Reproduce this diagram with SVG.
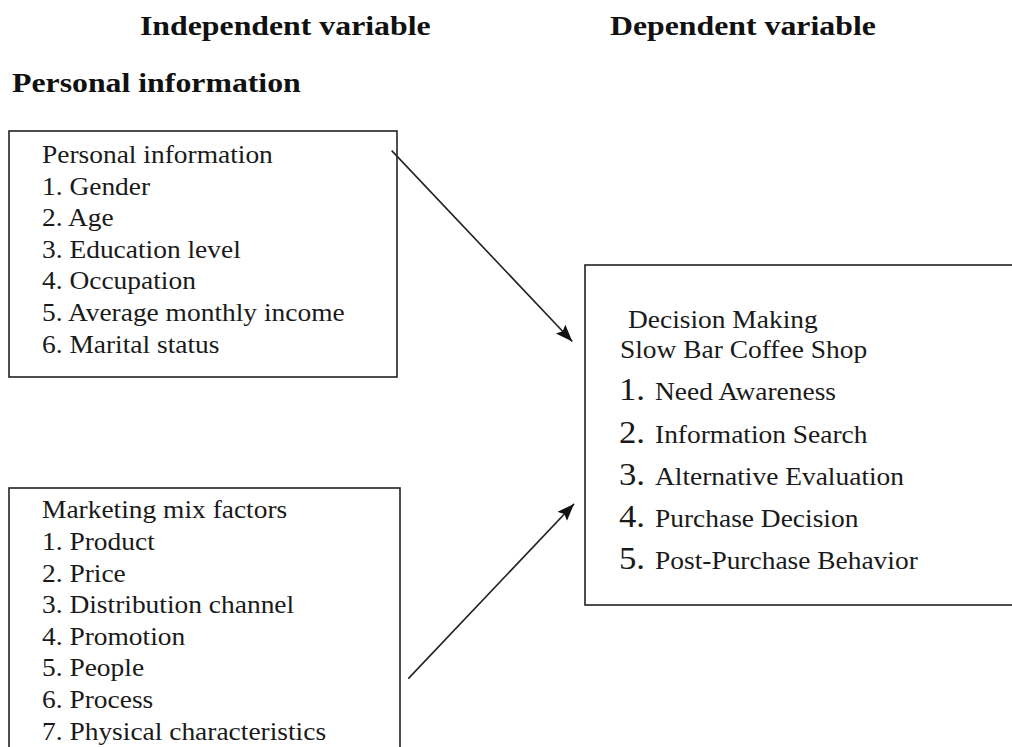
<svg xmlns="http://www.w3.org/2000/svg" width="1012" height="747" viewBox="0 0 1012 747">
<style>
text{font-family:'Liberation Serif',Tinos,'Times New Roman',Times,serif}
.h{font-weight:bold;font-size:26.5px;fill:#111}
.t{font-size:24.5px;fill:#1a1a1a}
.n{font-size:31px;fill:#1a1a1a}
.box{fill:none;stroke:#222;stroke-width:1.6}
.conn{stroke:#222;stroke-width:1.6;fill:none}
</style>
<defs>
<marker id="arr" markerUnits="userSpaceOnUse" markerWidth="19" markerHeight="14" refX="17" refY="6.5" orient="auto">
<path d="M0,0 L17,6.5 L0,13 L3,6.5 Z" fill="#111"/>
</marker>
</defs>
<rect width="1012" height="747" fill="#fff"/>
<g id="headings">
<text class="h" transform="translate(140,35) scale(1.2 1)">Independent variable</text>
<text class="h" transform="translate(610,35) scale(1.2 1)">Dependent variable</text>
<text class="h" transform="translate(12,92) scale(1.2 1)">Personal information</text>
</g>
<g id="personal">
<rect class="box" x="9" y="131" width="388" height="246"/>
<text class="t" transform="translate(42,163) scale(1.12 1)">Personal information</text>
<text class="t" transform="translate(42,194.6) scale(1.12 1)">1. Gender</text>
<text class="t" transform="translate(42,226.2) scale(1.12 1)">2. Age</text>
<text class="t" transform="translate(42,257.8) scale(1.12 1)">3. Education level</text>
<text class="t" transform="translate(42,289.4) scale(1.12 1)">4. Occupation</text>
<text class="t" transform="translate(42,321) scale(1.12 1)">5. Average monthly income</text>
<text class="t" transform="translate(42,352.6) scale(1.12 1)">6. Marital status</text>
</g>
<g id="marketing">
<rect class="box" x="9" y="488" width="391" height="280"/>
<text class="t" transform="translate(42,518.3) scale(1.12 1)">Marketing mix factors</text>
<text class="t" transform="translate(42,549.9) scale(1.12 1)">1. Product</text>
<text class="t" transform="translate(42,581.5) scale(1.12 1)">2. Price</text>
<text class="t" transform="translate(42,613.1) scale(1.12 1)">3. Distribution channel</text>
<text class="t" transform="translate(42,644.7) scale(1.12 1)">4. Promotion</text>
<text class="t" transform="translate(42,676.3) scale(1.12 1)">5. People</text>
<text class="t" transform="translate(42,707.9) scale(1.12 1)">6. Process</text>
<text class="t" transform="translate(42,739.5) scale(1.12 1)">7. Physical characteristics</text>
</g>
<g id="decision">
<rect class="box" x="585" y="265" width="440" height="340"/>
<text class="t" transform="translate(628,328) scale(1.12 1)">Decision Making</text>
<text class="t" transform="translate(620,358) scale(1.12 1)">Slow Bar Coffee Shop</text>
<text class="n" transform="translate(619,400) scale(1.12 1)">1.</text>
<text class="t" transform="translate(655,400) scale(1.12 1)">Need Awareness</text>
<text class="n" transform="translate(619,442.5) scale(1.12 1)">2.</text>
<text class="t" transform="translate(655,442.5) scale(1.12 1)">Information Search</text>
<text class="n" transform="translate(619,485) scale(1.12 1)">3.</text>
<text class="t" transform="translate(655,485) scale(1.12 1)">Alternative Evaluation</text>
<text class="n" transform="translate(619,527) scale(1.12 1)">4.</text>
<text class="t" transform="translate(655,527) scale(1.12 1)">Purchase Decision</text>
<text class="n" transform="translate(619,569) scale(1.12 1)">5.</text>
<text class="t" transform="translate(655,569) scale(1.12 1)">Post-Purchase Behavior</text>
</g>
<g id="connectors">
<line class="conn" x1="391.7" y1="150.6" x2="572.3" y2="341.5" marker-end="url(#arr)"/>
<line class="conn" x1="408.3" y1="678.6" x2="574" y2="503.9" marker-end="url(#arr)"/>
</g>
</svg>
